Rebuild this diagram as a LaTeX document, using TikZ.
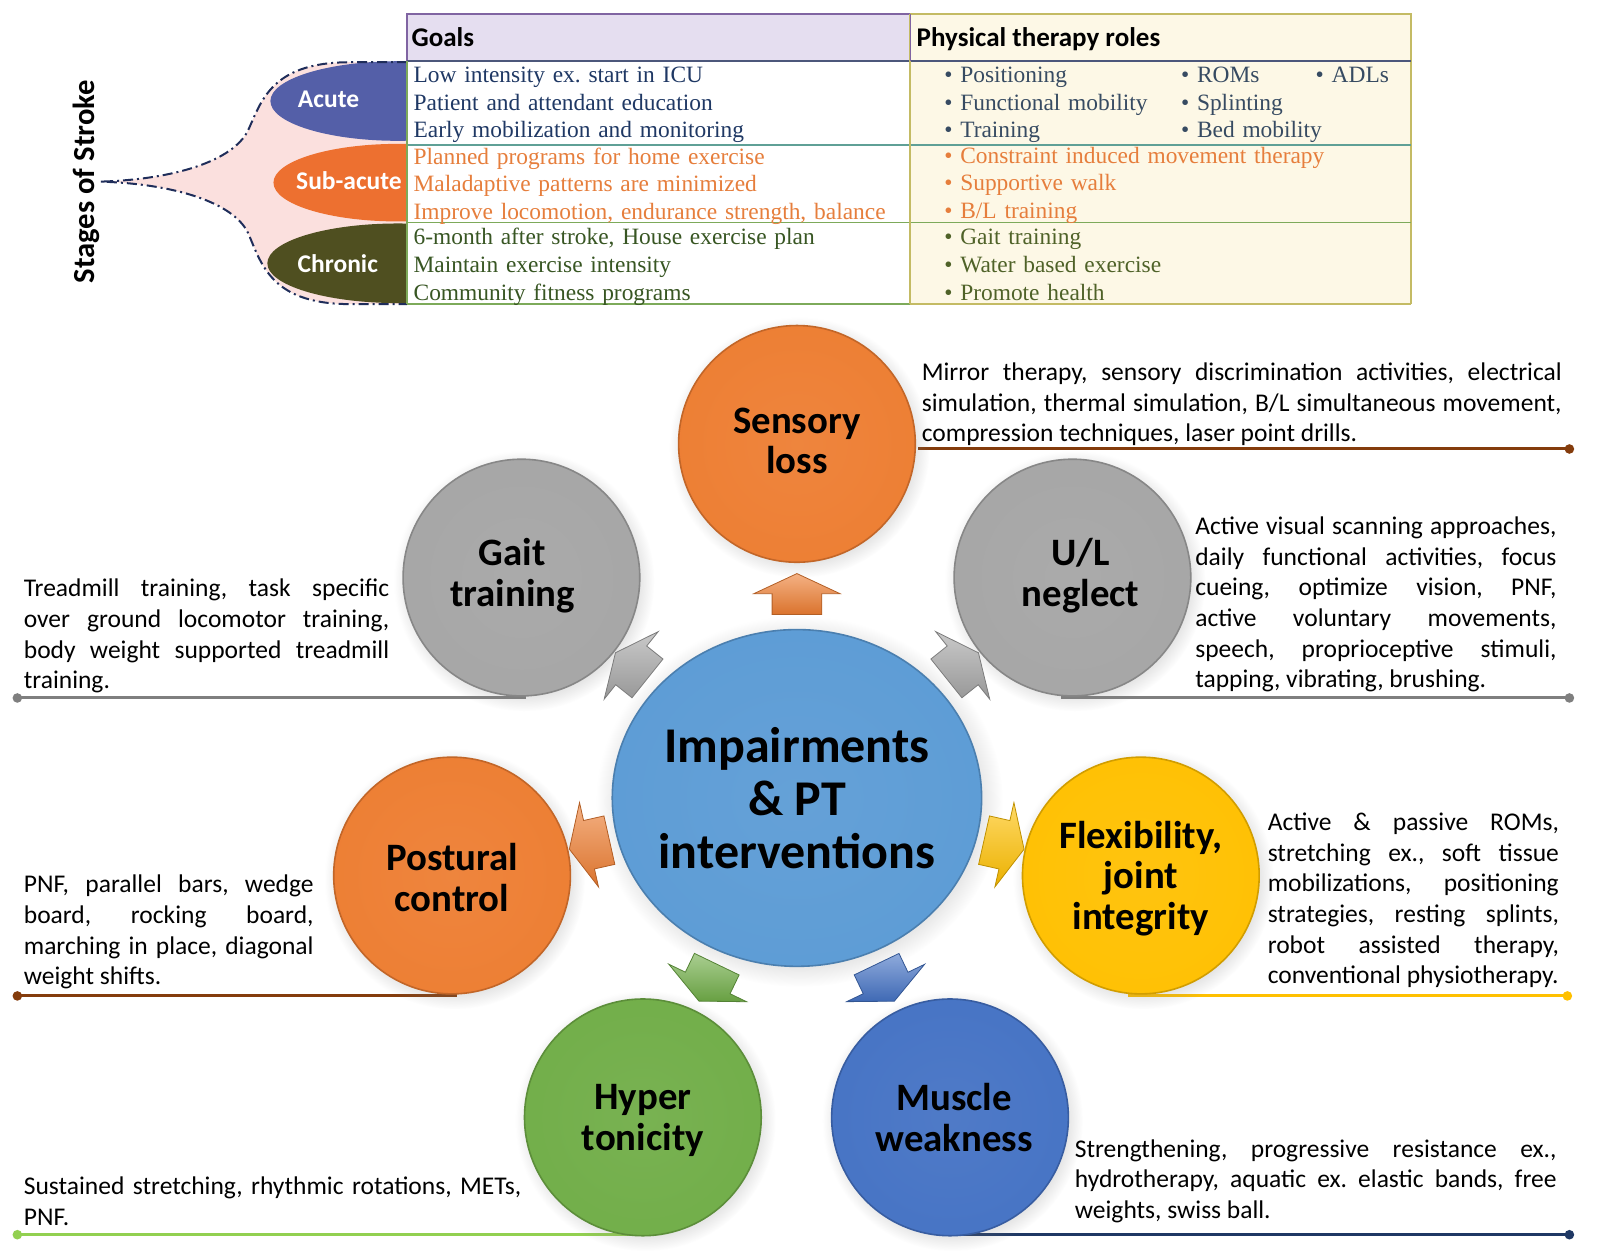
\documentclass[tikz,border=0pt]{standalone}
\usepackage{fontspec}
\setmainfont{Carlito}
\newfontfamily\tnr{Liberation Serif}
\usetikzlibrary{shapes.geometric,shapes.arrows,shadows,calc}
\frenchspacing
\definecolor{acuteC}{RGB}{84,95,168}
\definecolor{subC}{RGB}{237,112,48}
\definecolor{chronC}{RGB}{79,79,32}
\definecolor{funnelC}{RGB}{251,224,222}
\definecolor{navyC}{RGB}{31,45,90}
\definecolor{goalHeadC}{RGB}{229,222,240}
\definecolor{goalBorderC}{RGB}{128,100,162}
\definecolor{ptFillC}{RGB}{253,248,230}
\definecolor{ptBorderC}{RGB}{196,187,100}
\definecolor{sepAC}{RGB}{95,160,150}
\definecolor{sepBC}{RGB}{125,170,90}
\definecolor{goalAtxt}{RGB}{31,56,100}
\definecolor{goalStxt}{RGB}{230,126,60}
\definecolor{goalCtxt}{RGB}{56,86,35}
\definecolor{ptAtxt}{RGB}{55,75,98}
\definecolor{ptCtxt}{RGB}{79,98,40}
\definecolor{orangeC}{RGB}{237,125,49}
\definecolor{grayC}{RGB}{165,165,165}
\definecolor{lblueC}{RGB}{91,155,213}
\definecolor{yellowC}{RGB}{255,192,0}
\definecolor{greenC}{RGB}{112,173,71}
\definecolor{dblueC}{RGB}{68,114,196}
\definecolor{brownL}{RGB}{132,60,12}
\definecolor{grayL}{RGB}{127,127,127}
\definecolor{yellowL}{RGB}{255,192,0}
\definecolor{greenL}{RGB}{146,208,80}
\definecolor{navyL}{RGB}{31,56,100}
\colorlet{circbase}{orangeC}
\pgfdeclareradialshading[circbase]{flatedge}{\pgfpoint{0bp}{0bp}}{%
  color(0bp)=(circbase!94!white); color(36bp)=(circbase); color(46bp)=(circbase!94!black); color(50bp)=(circbase!80!black)}
\newcommand\descfont{\fontsize{12.75pt}{15.3pt}\selectfont\hyphenpenalty=10000\exhyphenpenalty=10000}
\newcommand\circfont{\bfseries\fontsize{19.4pt}{20.4pt}\selectfont}
\newcommand\bigfont{\bfseries\fontsize{25pt}{26.5pt}\selectfont}
\newcommand\tblfont{\tnr\fontsize{11.7pt}{13.8pt}\selectfont}
\newcommand\headfont{\bfseries\fontsize{13.5pt}{15pt}\selectfont}
\newcommand\stagefont{\bfseries\fontsize{12.75pt}{14pt}\selectfont}
\begin{document}
\begin{tikzpicture}[x=0.51pt,y=-0.51pt,
  circ/.style={circle, minimum size=118.3pt, inner sep=0pt,
    /utils/exec={\colorlet{circbase}{#1}}, shading=flatedge, draw=#1!82!black, line width=0.8pt,
    circular drop shadow={shadow xshift=1.2pt, shadow yshift=-1.6pt, opacity=0.25}},
  circlbl/.style={align=center, font=\circfont, inner sep=0pt},
  arr/.style={single arrow, minimum height=20.5pt, minimum width=42.8pt, inner xsep=0pt,
    inner ysep=12.2pt, single arrow head extend=9.2pt, single arrow tip angle=130,
    draw=#1!75!black, line width=0.4pt, top color=#1!60!white, bottom color=#1!92!black,
    sloped, allow upside down},
  desc/.style={anchor=base west, inner sep=0pt, align=justify, font=\descfont},
  tbl/.style={anchor=base west, inner sep=0pt, align=left, text width=250pt, font=\tblfont},
  hline/.style={line width=1.5pt},
  dot/.style={radius=2.4pt}
]
\useasboundingbox (0,0) rectangle (1568,1225);

% ---------- Stages funnel ----------
\fill[funnelC] (98,178) .. controls (170,176) and (228,158) .. (243,128)
   .. controls (256,100) and (265,62) .. (340,61) -- (399,61) -- (399,298) -- (340,298)
   .. controls (265,297) and (256,258) .. (243,228)
   .. controls (228,198) and (170,180) .. (98,178) -- cycle;
\begin{scope}
\clip (0,0) rectangle (399,1225);
\fill[acuteC] (390,99) ellipse [x radius=125, y radius=39];
\fill[subC] (390,179) ellipse [x radius=122, y radius=38];
\fill[chronC] (390,258) ellipse [x radius=128, y radius=39];
\end{scope}
\draw[navyC, line width=1pt, dash pattern=on 5pt off 2pt on 1pt off 2pt]
   (399,61) -- (340,61) .. controls (265,62) and (256,100) .. (243,128)
   .. controls (228,158) and (170,176) .. (98,178)
   .. controls (170,180) and (228,198) .. (243,228)
   .. controls (256,258) and (265,297) .. (340,298) -- (399,298);
\node[rotate=90, font=\bfseries\fontsize{15.3pt}{16pt}\selectfont, inner sep=0pt] (stages) at (85,178) {Stages of Stroke};
\node[text=white, font=\stagefont, inner sep=0pt] (acute) at (322,97) {Acute};
\node[text=white, font=\stagefont, inner sep=0pt] (subacute) at (342,177) {Sub-acute};
\node[text=white, font=\stagefont, inner sep=0pt] (chronic) at (331,258) {Chronic};

% ---------- Table ----------
\fill[goalHeadC] (399,14) rectangle (892,60);
\fill[ptFillC] (892,14) rectangle (1383,298);
\fill[white] (399,60) rectangle (892,298);
\draw[goalBorderC, line width=0.8pt] (892,14) -- (399,14) -- (399,60);
\draw[ptBorderC, line width=1pt] (892,14) -- (1383,14) -- (1383,298);
\draw[navyC!80, line width=0.8pt] (399,60) -- (1383,60);
\draw[sepAC, line width=0.8pt] (399,142) -- (1383,142);
\draw[sepBC, line width=0.8pt] (399,218) -- (1383,218);
\draw[sepBC, line width=0.8pt] (399,298) -- (892,298);
\draw[ptBorderC, line width=1.2pt] (892,298) -- (1383,298);
\draw[sepBC, line width=0.8pt] (399,60) -- (399,298);
\draw[ptBorderC, line width=1pt] (892,14) -- (892,298);
\draw[goalBorderC, line width=0.6pt] (892,14) -- (892,60);

\node[anchor=base west, inner sep=0pt, font=\headfont] (goalsH) at (403,46) {Goals};
\node[anchor=base west, inner sep=0pt, font=\headfont] (ptH) at (898,46) {Physical therapy roles};

\node[tbl, text=goalAtxt] (gA) at (405,81) {Low intensity ex. start in ICU\\Patient and attendant education\\Early mobilization and monitoring};
\node[tbl, text=goalStxt] (gS) at (405,161) {Planned programs for home exercise\\Maladaptive patterns are minimized\\Improve locomotion, endurance strength, balance};
\node[tbl, text=goalCtxt] (gC) at (405,240) {6-month after stroke, House exercise plan\\Maintain exercise intensity\\Community fitness programs};

\node[tbl, text=ptAtxt, text width=120pt] (pA1) at (925,81) {• Positioning\\• Functional mobility\\• Training};
\node[tbl, text=ptAtxt, text width=110pt] (pA2) at (1157,81) {• ROMs\\• Splinting\\• Bed mobility};
\node[tbl, text=ptAtxt, text width=40pt] (pA3) at (1289,81) {• ADLs};
\node[tbl, text=goalStxt] (pS) at (925,160) {• Constraint induced movement therapy\\• Supportive walk\\• B/L training};
\node[tbl, text=ptCtxt] (pC) at (925,240) {• Gait training\\• Water based exercise\\• Promote health};

% ---------- Leader lines ----------
\coordinate (sL) at (900,440);  \coordinate (sR) at (1538,440);
\coordinate (gL) at (17,684);   \coordinate (gR) at (515,684);
\coordinate (uL) at (1040,684); \coordinate (uR) at (1538,684);
\coordinate (pL) at (17,976);   \coordinate (pR) at (448,976);
\coordinate (fL) at (1105,976); \coordinate (fR) at (1536,976);
\coordinate (hL) at (17,1210);  \coordinate (hR) at (625,1210);
\coordinate (mL) at (920,1210); \coordinate (mR) at (1538,1210);
\draw[hline, brownL] (sL) -- (sR); \fill[brownL] (sR) circle[dot];
\draw[hline, grayL] (gL) -- (gR); \fill[grayL] (gL) circle[dot];
\draw[hline, grayL] (uL) -- (uR); \fill[grayL] (uR) circle[dot];
\draw[hline, brownL] (pL) -- (pR); \fill[brownL] (pL) circle[dot];
\draw[hline, yellowL] (fL) -- (fR); \fill[yellowL] (fR) circle[dot];
\draw[hline, greenL] (hL) -- (hR); \fill[greenL] (hL) circle[dot];
\draw[hline, navyL] (mL) -- (mR); \fill[navyL] (mR) circle[dot];

% ---------- Circles ----------
\node[circ=orangeC] (sens) at (781,435) {};
\node[circ=grayC] (gait) at (511,566) {};
\node[circ=grayC] (ul) at (1051,566) {};
\node[circ=orangeC] (post) at (443,858) {};
\node[circ=yellowC] (flex) at (1118,858) {};
\node[circ=greenC] (hyper) at (630,1095) {};
\node[circ=dblueC] (musc) at (931,1095) {};
\node[circ=lblueC, ellipse, minimum width=184.6pt, minimum height=168.3pt] (imp) at (781,782) {};

\node[circlbl] (sensL) at ([yshift=1.5pt]sens.center) {Sensory\\loss};
\node[circlbl] (gaitL) at ([xshift=-4.5pt, yshift=1pt]gait.center) {Gait\\training};
\node[circlbl] (ulL) at ([xshift=4pt, yshift=1pt]ul.center) {U/L\\neglect};
\node[circlbl] (postL) at ([yshift=-1pt]post.center) {Postural\\control};
\node[circlbl] (flexL) at ([yshift=-1.5pt]flex.center) {Flexibility,\\joint\\integrity};
\node[circlbl] (hyperL) at ([yshift=-1.5pt]hyper.center) {Hyper\\tonicity};
\node[circlbl] (muscL) at ([xshift=2pt]musc.center) {Muscle\\weakness};
\node[align=center, font=\bigfont, inner sep=0pt] (impL) at (imp.center) {Impairments\\\& PT\\interventions};

% ---------- Arrows ----------
\path (imp) -- (sens) node[arr=orangeC, pos=0.44] (a1) {};
\path (imp) -- (gait) node[arr=grayC, pos=0.5] (a2) {};
\path (imp) -- (ul) node[arr=grayC, pos=0.5] (a3) {};
\path (imp) -- (post) node[arr=orangeC, pos=0.45] (a4) {};
\path (imp) -- (flex) node[arr=yellowC, pos=0.45] (a5) {};
\path (imp) -- (hyper) node[arr=greenC, pos=0.43] (a6) {};
\path (imp) -- (musc) node[arr=dblueC, pos=0.43] (a7) {};

% ---------- Descriptions ----------
\node[desc, text width=319.8pt] (tS) at (903,373) {Mirror therapy, sensory discrimination activities, electrical\linebreak simulation, thermal simulation, B/L simultaneous movement,\linebreak compression techniques, laser point drills.};
\node[desc, text width=182.6pt] (tG) at (23,585) {Treadmill training, task specific\linebreak over ground locomotor training,\linebreak body weight supported treadmill\linebreak training.};
\node[desc, text width=180.5pt] (tU) at (1171,524) {Active visual scanning approaches,\linebreak daily functional activities, focus\linebreak cueing, optimize vision, PNF,\linebreak active voluntary movements,\linebreak speech, proprioceptive stimuli,\linebreak tapping, vibrating, brushing.};
\node[desc, text width=144.8pt] (tP) at (23,875) {PNF, parallel bars, wedge\linebreak board, rocking board,\linebreak marching in place, diagonal\linebreak weight shifts.};
\node[desc, text width=145.5pt] (tF) at (1242,814) {Active \& passive ROMs,\linebreak stretching ex., soft tissue\linebreak mobilizations, positioning\linebreak strategies, resting splints,\linebreak robot assisted therapy,\linebreak conventional physiotherapy.};
\node[desc, align=left, text width=255pt] (tH) at (23,1171) {Sustained stretching, rhythmic rotations, METs,\\PNF.};
\node[desc, text width=240.7pt] (tM) at (1053,1134) {Strengthening, progressive resistance ex.,\linebreak hydrotherapy, aquatic ex. elastic bands, free\linebreak weights, swiss ball.};
\end{tikzpicture}
\end{document}
